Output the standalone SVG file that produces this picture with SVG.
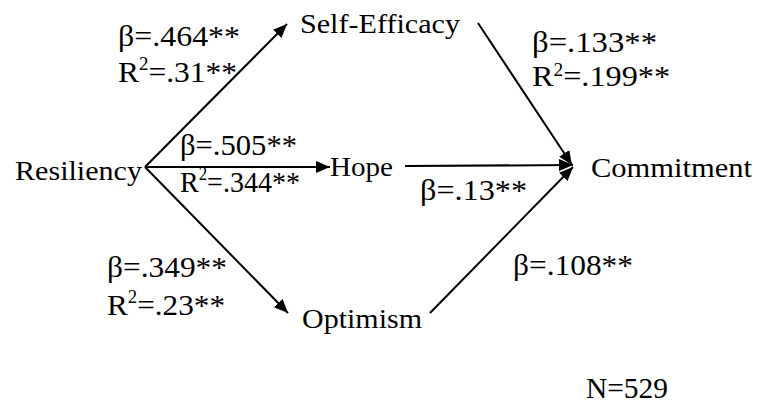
<svg xmlns="http://www.w3.org/2000/svg" width="758" height="405" viewBox="0 0 758 405">
<style>
  .node { font-family: "Liberation Serif", "Times New Roman", serif; font-size: 28px; fill: #000; }
  .lbl { font-family: "Liberation Serif", "Times New Roman", serif; font-size: 30px; fill: #000; }
  .sup { font-size: 18px; }
  .edge { stroke: #000; stroke-width: 2; fill: none; }
</style>
<defs>
  <marker id="arrow" viewBox="0 0 14 12" refX="14" refY="6" markerWidth="14" markerHeight="12" orient="auto" markerUnits="userSpaceOnUse">
    <path d="M0,0 L14,6 L0,12 z" fill="#000"/>
  </marker>
</defs>
<rect width="758" height="405" fill="#fff"/>
<g id="connectors">
  <line class="edge" x1="145" y1="167" x2="287" y2="24" marker-end="url(#arrow)"/>
  <line class="edge" x1="145" y1="167" x2="330" y2="167" marker-end="url(#arrow)"/>
  <line class="edge" x1="145" y1="167" x2="288" y2="313" marker-end="url(#arrow)"/>
  <line class="edge" x1="478" y1="23" x2="572" y2="165" marker-end="url(#arrow)"/>
  <line class="edge" x1="405" y1="166" x2="573" y2="165" marker-end="url(#arrow)"/>
  <line class="edge" x1="430" y1="313" x2="573" y2="167" marker-end="url(#arrow)"/>
</g>
<g id="labels">
  <text class="lbl" x="118" y="46" textLength="122" lengthAdjust="spacingAndGlyphs">β=.464**</text>
  <text class="lbl" x="118" y="82" textLength="119" lengthAdjust="spacingAndGlyphs">R<tspan class="sup" dy="-12">2</tspan><tspan dy="12">=.31**</tspan></text>
  <text class="lbl" x="180" y="155" textLength="117" lengthAdjust="spacingAndGlyphs">β=.505**</text>
  <text class="lbl" x="180" y="192" textLength="120" lengthAdjust="spacingAndGlyphs">R<tspan class="sup" dy="-12">2</tspan><tspan dy="12">=.344**</tspan></text>
  <text class="lbl" x="107" y="277" textLength="120" lengthAdjust="spacingAndGlyphs">β=.349**</text>
  <text class="lbl" x="107" y="315" textLength="118" lengthAdjust="spacingAndGlyphs">R<tspan class="sup" dy="-12">2</tspan><tspan dy="12">=.23**</tspan></text>
  <text class="lbl" x="532" y="52" textLength="125" lengthAdjust="spacingAndGlyphs">β=.133**</text>
  <text class="lbl" x="532" y="86" textLength="138" lengthAdjust="spacingAndGlyphs">R<tspan class="sup" dy="-10">2</tspan><tspan dy="10">=.199**</tspan></text>
  <text class="lbl" x="420" y="200" textLength="107" lengthAdjust="spacingAndGlyphs">β=.13**</text>
  <text class="lbl" x="513" y="275" textLength="120" lengthAdjust="spacingAndGlyphs">β=.108**</text>
  <text class="lbl" x="586" y="398" textLength="82" lengthAdjust="spacingAndGlyphs">N=529</text>
</g>
<g id="resiliency"><text class="node" x="15" y="180" textLength="127" lengthAdjust="spacingAndGlyphs">Resiliency</text></g>
<g id="self-efficacy"><text class="node" x="300" y="33" textLength="160" lengthAdjust="spacingAndGlyphs">Self-Efficacy</text></g>
<g id="hope"><text class="node" x="330" y="176" textLength="63" lengthAdjust="spacingAndGlyphs">Hope</text></g>
<g id="optimism"><text class="node" x="302" y="328" textLength="120" lengthAdjust="spacingAndGlyphs">Optimism</text></g>
<g id="commitment"><text class="node" x="591" y="177" textLength="161" lengthAdjust="spacingAndGlyphs">Commitment</text></g>
</svg>
